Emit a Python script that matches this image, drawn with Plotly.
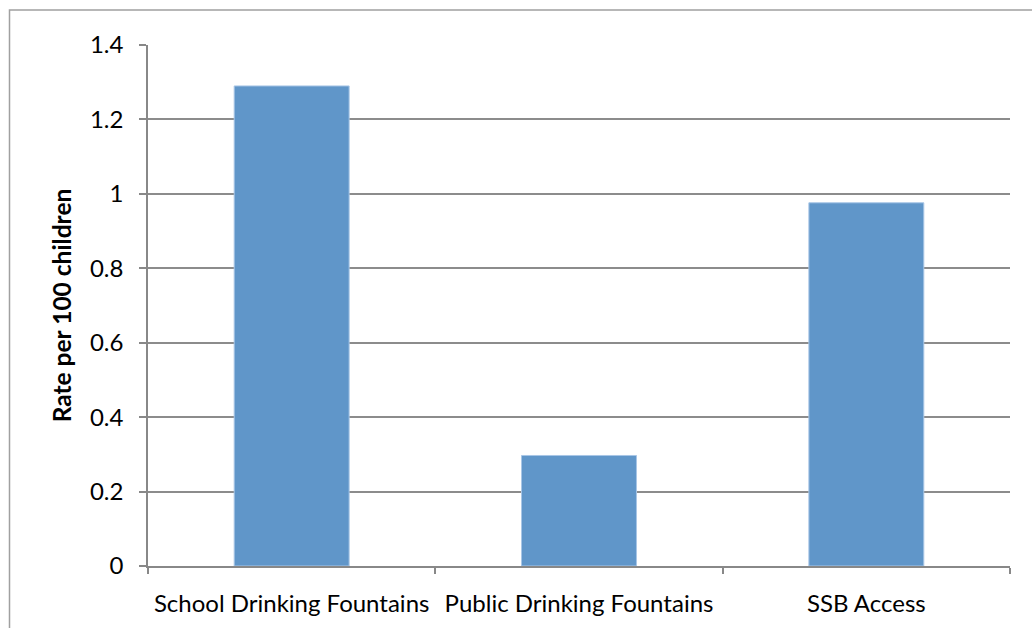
import plotly.graph_objects as go

categories = ["School Drinking Fountains", "Public Drinking Fountains", "SSB Access"]
rates = [1.29, 0.297, 0.976]
y_ticks = [0, 0.2, 0.4, 0.6, 0.8, 1.0, 1.2, 1.4]
y_tick_labels = ["0", "0.2", "0.4", "0.6", "0.8", "1", "1.2", "1.4"]

W, H = 1032, 628
left, right, top, bottom = 148, W - 1010, 44.5, H - 566
pw = W - left - right
ph = H - top - bottom

fig = go.Figure(
    go.Bar(
        x=categories,
        y=rates,
        marker=dict(color="#6096C9", line=dict(color="#A8C6E6", width=1)),
        width=0.4,
    )
)

font_family = "Lato, Carlito, Calibri, sans-serif"

fig.update_layout(
    width=W,
    height=H,
    margin=dict(l=left, r=right, t=top, b=bottom),
    paper_bgcolor="white",
    plot_bgcolor="white",
    showlegend=False,
    font=dict(family=font_family, size=24, color="#000000"),
    xaxis=dict(
        showline=True,
        linecolor="#888888",
        linewidth=1.5,
        ticks="outside",
        tickson="boundaries",
        ticklen=6,
        tickcolor="#888888",
        tickwidth=1.5,
        showgrid=False,
        tickfont=dict(size=24),
        ticklabelstandoff=15,
    ),
    yaxis=dict(
        range=[0, 1.4],
        tickvals=y_ticks,
        ticktext=y_tick_labels,
        showline=True,
        linecolor="#888888",
        linewidth=1.5,
        ticks="outside",
        ticklen=7,
        tickcolor="#888888",
        tickwidth=1.5,
        showgrid=True,
        gridcolor="#8C8C8C",
        gridwidth=1.5,
        zeroline=False,
        tickfont=dict(size=24),
        ticklabelstandoff=11,
        title=dict(
            text="<b>Rate per 100 children</b>",
            font=dict(size=24.5),
            standoff=11,
        ),
    ),
    shapes=[
        dict(
            type="rect",
            xref="paper",
            yref="paper",
            x0=(9.5 - left) / pw,
            x1=(W + 5 - left) / pw,
            y0=(566 - (H + 20)) / ph,
            y1=(566 - 9.5) / ph,
            line=dict(color="#A0A0A0", width=1.5),
            layer="below",
        )
    ],
)

fig.write_html("out.html")
